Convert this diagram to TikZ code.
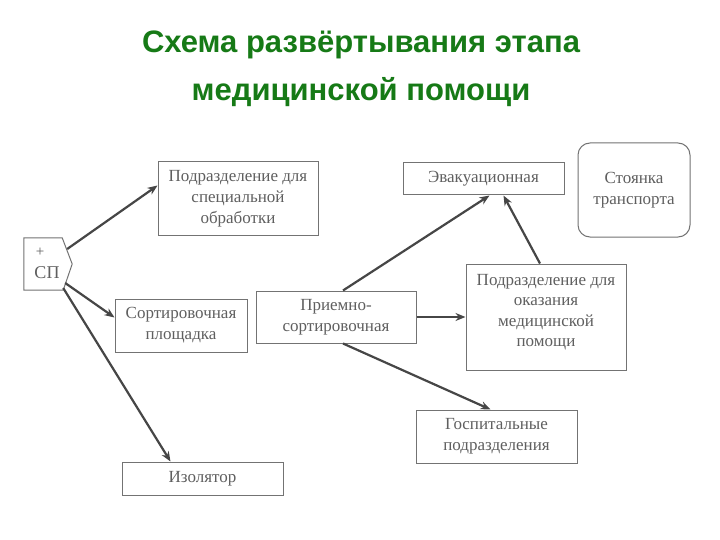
\documentclass[tikz,border=0pt]{standalone}
\usepackage{fontspec}
\setmainfont{Liberation Serif}
\newfontfamily\titlefont{Liberation Sans}
\usetikzlibrary{arrows.meta,calc}
\definecolor{titlegreen}{RGB}{22,122,22}
\definecolor{boxline}{RGB}{115,115,115}
\definecolor{txt}{RGB}{95,95,95}
\definecolor{arr}{RGB}{70,70,70}
\begin{document}
\begin{tikzpicture}[x=1pt,y=-1pt,
  box/.style={draw=boxline, line width=1pt, text=txt, font=\fontsize{17}{21}\selectfont, align=center, inner sep=0pt},
  conn/.style={draw=arr, line width=2.2pt, -{Stealth[length=10pt,width=8pt]}},
  ttl/.style={font=\titlefont\bfseries\fontsize{31}{36}\selectfont, text=titlegreen}]
\useasboundingbox[fill=white] (0,0) rectangle (720,540);

\node[ttl] (t1) at (361,45) {Схема развёртывания этапа};
\node[ttl] (t2) at (361,92) {медицинской помощи};

% SP chevron
\node[minimum width=48pt, minimum height=52pt, inner sep=0pt] (sp) at (48,264) {};
\draw[boxline, line width=1pt] (sp.north west) -- ($(sp.north east)+(-10,0)$) -- (sp.east) -- ($(sp.south east)+(-9,0)$) -- (sp.south west) -- cycle;
\node[text=txt, font=\fontsize{15}{16}\selectfont] (plus) at (40,252) {+};
\node[text=txt, font=\fontsize{18}{19}\selectfont] (spl) at (47,273) {СП};

\node[box, minimum width=160pt, minimum height=73pt] (spec) at (238,198.5) {Подразделение для\\специальной\\обработки};
\node[box, minimum width=132pt, minimum height=53pt] (sort) at (181,325.5) {Сортировочная\\площадка};
\node[box, minimum width=160pt, minimum height=52pt] (priem) at (336,317) {Приемно-\\сортировочная};
\node[box, minimum width=161pt, minimum height=32pt] (evak) at (483.5,179) {Эвакуационная};
\node[box, rounded corners=12pt, minimum width=112pt, minimum height=94pt] (stoy) at (634,190) {Стоянка\\транспорта};
\node[box, minimum width=160pt, minimum height=106pt] (med) at (546,317) {};
\node[text=txt, font=\fontsize{17}{20.5}\selectfont, align=center] (medt) at (546,312) {Подразделение для\\оказания\\медицинской\\помощи};
\node[box, minimum width=161pt, minimum height=53pt] (gosp) at (496.5,436.5) {Госпитальные\\подразделения};
\node[box, minimum width=161pt, minimum height=33pt] (izol) at (202.5,478.5) {Изолятор};

\draw[conn] ($(sp.east)+(-5,-15)$) -- ($(spec.west)+(0,-13)$);
\draw[conn] ($(sp.east)+(-7,19)$) -- ($(sort.west)+(0,-8)$);
\draw[conn] ($(sp.east)+(-9,24)$) -- ($(izol.north)+(-32,0)$);
\draw[conn] ($(priem.north)+(7,0)$) -- ($(evak.south)+(6,0)$);
\draw[conn] ($(med.north)+(-6,0)$) -- ($(evak.south)+(20,0)$);
\draw[conn] (priem.east) -- (med.west);
\draw[conn] ($(priem.south)+(7,0)$) -- ($(gosp.north)+(-6,0)$);
\end{tikzpicture}
\end{document}
